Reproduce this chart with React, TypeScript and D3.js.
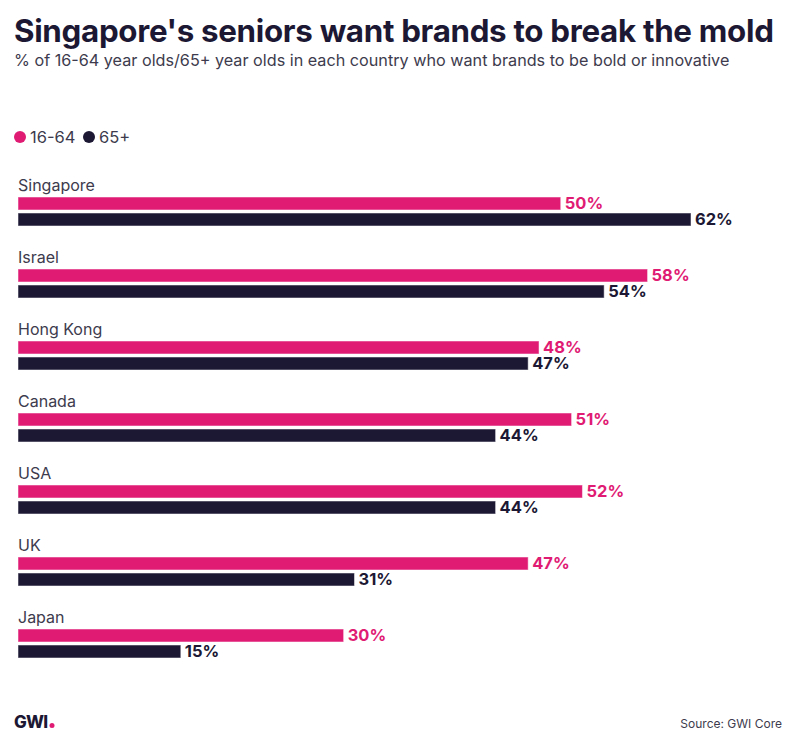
import React from "react";
import * as d3 from "d3";

const countries = ["Singapore", "Israel", "Hong Kong", "Canada", "USA", "UK", "Japan"];
const young = [50, 58, 48, 51, 52, 47, 30];
const senior = [62, 54, 47, 44, 44, 31, 15];
const seriesNames = ["16-64", "65+"];
const seriesColors = ["#df1b74", "#1c1834"];

const W = 796;
const H = 747;
const FONT = "Inter, 'Noto Sans', sans-serif";

export default function App() {
  const x = d3.scaleLinear().domain([0, 62]).range([18, 691]);
  const y = d3.scaleBand<string>().domain(countries).range([179, 179 + 72 * countries.length]);
  const barH = 13;
  const gap = 3;
  const series = [young, senior];
  const legendX = [14, 83];

  return (
    <svg width={W} height={H} style={{ position: "absolute", left: 0, top: 0, background: "#fff" }} fontFamily={FONT}>
      <text x={14} y={42} fontSize={31.3} fontWeight={700} fill="#1c1834" letterSpacing={-0.3}>
        Singapore's seniors want brands to break the mold
      </text>
      <text x={14} y={66} fontSize={16.2} fill="#3d3b4d">
        % of 16-64 year olds/65+ year olds in each country who want brands to be bold or innovative
      </text>

      {seriesNames.map((s, i) => {
        const lx = legendX[i];
        return (
          <g key={s}>
            <circle cx={lx + 6} cy={137} r={6} fill={seriesColors[i]} />
            <text x={lx + 16} y={143} fontSize={16.5} fill="#3d3b4d">{s}</text>
          </g>
        );
      })}

      {countries.map((c, ci) => {
        const top = y(c)!;
        return (
          <g key={c}>
            <text x={18} y={top + 12} fontSize={16} fill="#3d3b4d">{c}</text>
            {series.map((vals, si) => {
              const by = top + 18 + si * (barH + gap);
              return (
                <g key={si}>
                  <rect
                    x={x(0)}
                    y={by}
                    width={x(vals[ci]) - x(0)}
                    height={barH}
                    fill={seriesColors[si]}
                    stroke="#ffffff"
                    strokeOpacity={0.5}
                    strokeWidth={1}
                  />
                  <text
                    x={x(vals[ci]) + 4}
                    y={by + barH / 2}
                    dy="0.36em"
                    fontSize={16.5}
                    fontWeight={700}
                    fill={seriesColors[si]}
                  >
                    {vals[ci]}%
                  </text>
                </g>
              );
            })}
          </g>
        );
      })}

      <text x={14} y={728} fontSize={17} fontWeight={800} fill="#1c1834" letterSpacing={-0.8}>GWI</text>
      <circle cx={52} cy={725.5} r={2.5} fill="#df1b74" />
      <text x={782} y={728} fontSize={12} fill="#3d3b4d" textAnchor="end">Source: GWI Core</text>
    </svg>
  );
}
